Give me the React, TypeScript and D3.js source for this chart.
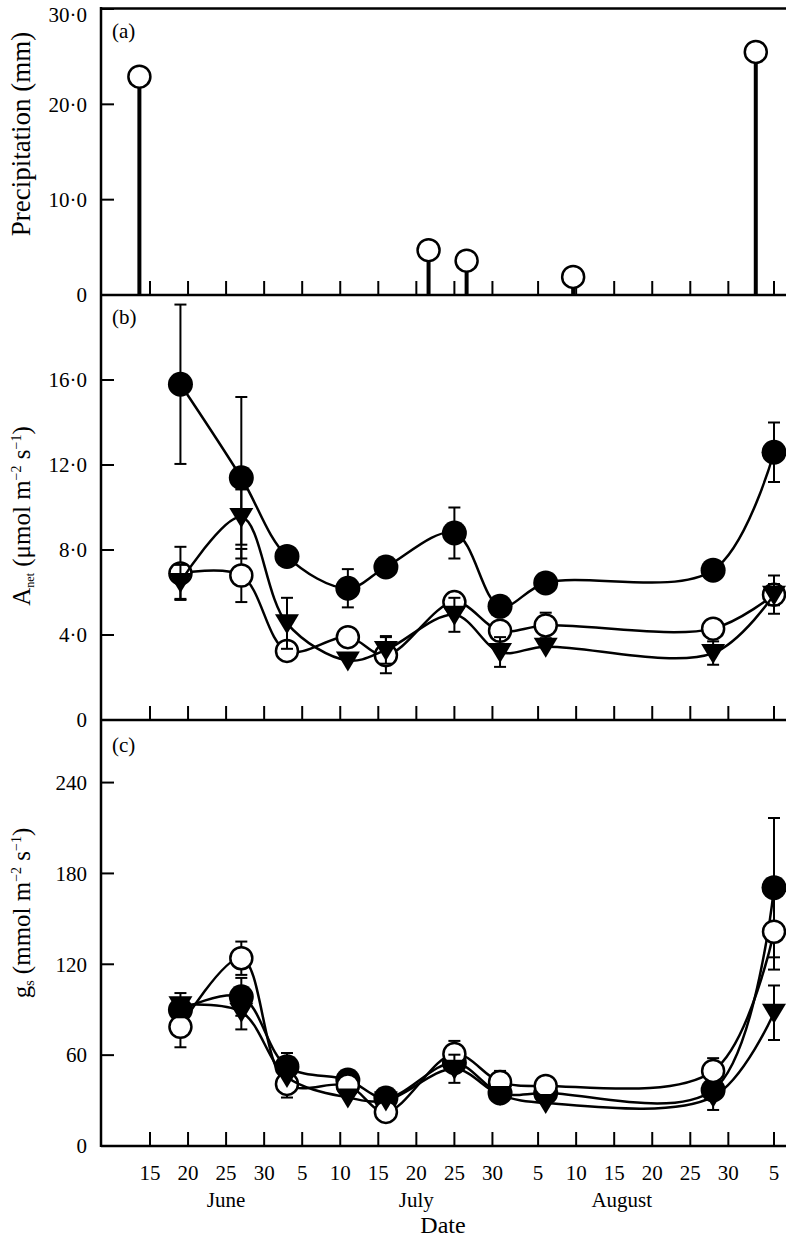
import React from "react";
import * as d3 from "d3";

// precipitation events (panel a)
const precipDates = ["1999-06-14", "1999-07-22", "1999-07-27", "1999-08-10", "1999-09-03"];
const precipValues = [22.9, 4.7, 3.6, 1.9, 25.5];

// sampling dates (panels b, c)
const sampleDates = [
  "1999-06-19", "1999-06-27", "1999-07-03", "1999-07-11", "1999-07-16",
  "1999-07-25", "1999-07-31", "1999-08-06", "1999-08-28", "1999-09-05",
];

// A_net, umol m-2 s-1
const anetFilled = [15.8, 11.4, 7.7, 6.2, 7.2, 8.8, 5.35, 6.45, 7.05, 12.6];
const anetFilledSE = [3.75, 3.8, 0, 0.9, 0, 1.2, 0, 0, 0, 1.4];
const anetOpen = [6.9, 6.8, 3.25, 3.9, 3.05, 5.55, 4.2, 4.45, 4.3, 5.9];
const anetOpenSE = [1.25, 1.25, 0, 0, 0.85, 0.45, 0, 0.6, 0, 0.9];
const anetTri = [6.5, 9.55, 4.55, 2.8, 3.3, 4.95, 3.2, 3.45, 3.15, 5.9];
const anetTriSE = [0.8, 1.3, 1.2, 0, 0.65, 0.8, 0.7, 0, 0.55, 0.5];

// g_s, mmol m-2 s-1
const gsFilled = [90, 98.5, 52.4, 43.6, 31.7, 55, 35, 35, 37, 170.6];
const gsFilledSE = [0, 12.5, 9, 0, 0, 0, 0, 0, 0, 46];
const gsOpen = [78.7, 124, 41, 40, 22.5, 60.8, 42.3, 39.7, 49.6, 141.5];
const gsOpenSE = [13.5, 11, 9, 0, 0, 8.6, 7.3, 0, 8.4, 25];
const gsTri = [93, 88.6, 45.6, 32, 30, 51, 33.7, 28.4, 32.6, 88];
const gsTriSE = [8, 11.6, 0, 0, 0, 9.3, 0, 0, 8.8, 18];

const tickDates = [
  "1999-06-15", "1999-06-20", "1999-06-25", "1999-06-30",
  "1999-07-05", "1999-07-10", "1999-07-15", "1999-07-20", "1999-07-25", "1999-07-30",
  "1999-08-05", "1999-08-10", "1999-08-15", "1999-08-20", "1999-08-25", "1999-08-30",
  "1999-09-05",
];
const tickLabels = ["15", "20", "25", "30", "5", "10", "15", "20", "25", "30", "5", "10", "15", "20", "25", "30", "5"];
const monthNames = ["June", "July", "August"];
const monthCentres = ["1999-06-25", "1999-07-20", "1999-08-16"];

const yTicksA = [0, 10, 20, 30];
const yTicksB = [0, 4, 8, 12, 16];
const yTicksC = [0, 60, 120, 180, 240];

const parse = d3.timeParse("%Y-%m-%d");
const W = 786;
const H = 1238;
const left = 101;
const right = 786;
const font = "Liberation Serif, Times New Roman, Times, serif";

const x = d3.scaleTime()
  .domain([parse("1999-06-15")!, parse("1999-09-05")!])
  .range([150, 774]);

const yA = d3.scaleLinear().domain([0, 30]).range([295, 9]);
const yB = d3.scaleLinear().domain([0, 20]).range([720, 295]);
const yC = d3.scaleLinear().domain([0, 280]).range([1146, 722]);

const dotFmt = (v: number) => (v === 0 ? "0" : d3.format(".1f")(v).replace(".", "\u00b7"));

function YAxis({ y, ticks, fmt }: { y: d3.ScaleLinear<number, number>; ticks: number[]; fmt: (v: number) => string }) {
  return (
    <g>
      {ticks.map((t) => (
        <g key={t}>
          {t !== 0 && <line x1={left} x2={left + 13} y1={y(t)} y2={y(t)} stroke="#000" strokeWidth={2} />}
          <text x={87} y={Math.max(y(t), 15)} dy="0.35em" textAnchor="end" fontSize={21}>
            {fmt(t)}
          </text>
        </g>
      ))}
    </g>
  );
}

function XTicks({ base }: { base: number }) {
  return (
    <g>
      {tickDates.map((d) => {
        const xx = x(parse(d)!);
        return <line key={d} x1={xx} x2={xx} y1={base} y2={base - 14} stroke="#000" strokeWidth={2} />;
      })}
    </g>
  );
}

function Series({
  values, se, y, kind,
}: { values: number[]; se: number[]; y: d3.ScaleLinear<number, number>; kind: "filled" | "open" | "tri" }) {
  const pts = values.map((v, i) => [x(parse(sampleDates[i])!), y(v)] as [number, number]);
  const line = d3.line().curve(d3.curveCatmullRom.alpha(0.5));
  return (
    <g>
      <path d={line(pts) || ""} fill="none" stroke="#000" strokeWidth={2.5} />
      {values.map((v, i) => {
        if (!se[i]) return null;
        const xx = pts[i][0];
        const y1 = y(v + se[i]);
        const y2 = y(v - se[i]);
        return (
          <g key={"e" + i} stroke="#000" strokeWidth={2}>
            <line x1={xx} x2={xx} y1={y1} y2={y2} />
            <line x1={xx - 6} x2={xx + 6} y1={y1} y2={y1} />
            <line x1={xx - 6} x2={xx + 6} y1={y2} y2={y2} />
          </g>
        );
      })}
      {pts.map(([px, py], i) => {
        if (kind === "tri") {
          return (
            <path key={i} d={`M${px - 12},${py - 9}L${px + 12},${py - 9}L${px},${py + 11}Z`} fill="#000" />
          );
        }
        return (
          <circle
            key={i} cx={px} cy={py} r={kind === "open" ? 11 : 12.5}
            fill={kind === "open" ? "#fff" : "#000"} stroke="#000" strokeWidth={kind === "open" ? 2.5 : 0}
          />
        );
      })}
    </g>
  );
}

export default function App() {
  return (
    <>
      <style>{`body{margin:0} svg text{font-family:${font};}`}</style>
      <svg width={W} height={H} style={{ display: "block", background: "#fff", fontFamily: font }}>
        {/* frame */}
        <line x1={left} x2={right} y1={8.5} y2={8.5} stroke="#000" strokeWidth={2.5} />
        <line x1={left} x2={left} y1={7} y2={1147} stroke="#000" strokeWidth={2.5} />
        <line x1={left} x2={right} y1={295} y2={295} stroke="#000" strokeWidth={2.5} />
        <line x1={left} x2={right} y1={720} y2={720} stroke="#000" strokeWidth={2.5} />
        <line x1={left} x2={right} y1={1146} y2={1146} stroke="#000" strokeWidth={2.5} />

        <XTicks base={295} />
        <XTicks base={720} />
        <XTicks base={1146} />

        <YAxis y={yA} ticks={yTicksA} fmt={dotFmt} />
        <YAxis y={yB} ticks={yTicksB} fmt={dotFmt} />
        <YAxis y={yC} ticks={yTicksC} fmt={(v) => String(v)} />

        {/* panel a: precipitation */}
        {precipValues.map((v, i) => {
          const xx = x(parse(precipDates[i])!) - 3;
          const cy = yA(v);
          return (
            <g key={i}>
              <line x1={xx} x2={xx} y1={yA(0)} y2={cy + 11} stroke="#000" strokeWidth={4} />
              <circle cx={xx} cy={cy} r={11} fill="#fff" stroke="#000" strokeWidth={2.5} />
            </g>
          );
        })}

        {/* panel b: A_net */}
        <Series values={anetFilled} se={anetFilledSE} y={yB} kind="filled" />
        <Series values={anetOpen} se={anetOpenSE} y={yB} kind="open" />
        <Series values={anetTri} se={anetTriSE} y={yB} kind="tri" />

        {/* panel c: g_s */}
        <Series values={gsFilled} se={gsFilledSE} y={yC} kind="filled" />
        <Series values={gsOpen} se={gsOpenSE} y={yC} kind="open" />
        <Series values={gsTri} se={gsTriSE} y={yC} kind="tri" />

        {/* panel letters */}
        <text x={112} y={38} fontSize={21}>(a)</text>
        <text x={112} y={324} fontSize={21}>(b)</text>
        <text x={112} y={752} fontSize={21}>(c)</text>

        {/* x labels */}
        {tickDates.map((d, i) => (
          <text key={d} x={x(parse(d)!)} y={1180} textAnchor="middle" fontSize={21}>
            {tickLabels[i]}
          </text>
        ))}
        {monthNames.map((m, i) => (
          <text key={m} x={x(parse(monthCentres[i])!)} y={1207} textAnchor="middle" fontSize={21}>
            {m}
          </text>
        ))}
        <text x={443} y={1233} textAnchor="middle" fontSize={24}>Date</text>

        {/* y titles */}
        <text transform="translate(30,134) rotate(-90)" textAnchor="middle" fontSize={27}>
          Precipitation (mm)
        </text>
        <text transform="translate(30,516) rotate(-90)" textAnchor="middle" fontSize={25}>
          A<tspan fontSize={12} dy={4}>net</tspan>
          <tspan dy={-4}> (μmol m</tspan>
          <tspan fontSize={14} dy={-9}>−2</tspan>
          <tspan dy={9}> s</tspan>
          <tspan fontSize={14} dy={-9}>−1</tspan>
          <tspan dy={9}>)</tspan>
        </text>
        <text transform="translate(30,913) rotate(-90)" textAnchor="middle" fontSize={25}>
          g<tspan fontSize={14} dy={4}>s</tspan>
          <tspan dy={-4}> (mmol m</tspan>
          <tspan fontSize={14} dy={-9}>−2</tspan>
          <tspan dy={9}> s</tspan>
          <tspan fontSize={14} dy={-9}>−1</tspan>
          <tspan dy={9}>)</tspan>
        </text>
      </svg>
    </>
  );
}
